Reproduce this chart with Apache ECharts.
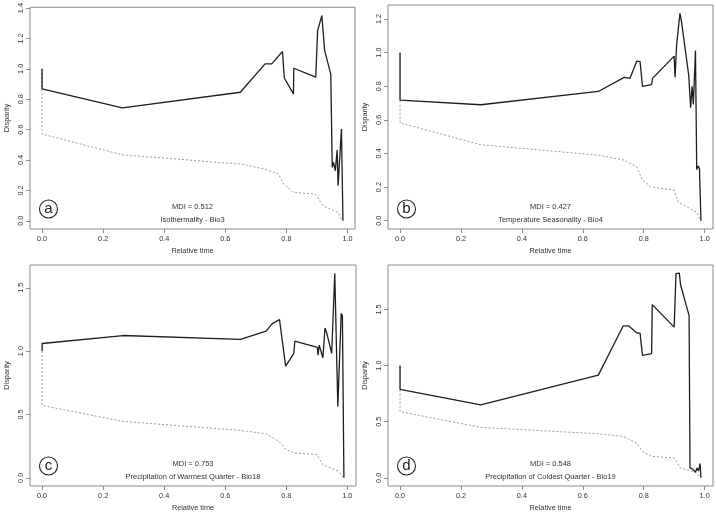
<!DOCTYPE html>
<html>
<head>
<meta charset="utf-8">
<script src="https://cdn.jsdelivr.net/npm/echarts@6/dist/echarts.min.js"></script>
<style>html,body{margin:0;padding:0;background:#fff;}#c{width:716px;height:515px;}</style>
</head>
<body>
<div id="c"></div>
<script>
// ---- data ----
const panelLetters = ['a', 'b', 'c', 'd'];
const traitNames = ['Isothermality - Bio3', 'Temperature Seasonality - Bio4', 'Precipitation of Warmest Quarter - Bio18', 'Precipitation of Coldest Quarter - Bio19'];
const mdiValues = ['0.512', '0.427', '0.753', '0.548'];

const xTicks = [0, 0.2, 0.4, 0.6, 0.8, 1.0];
const yTicksA = [0, 0.2, 0.4, 0.6, 0.8, 1.0, 1.2, 1.4];
const yTicksB = [0, 0.2, 0.4, 0.6, 0.8, 1.0, 1.2];
const yTicksC = [0, 0.5, 1.0, 1.5];
const yTicksD = [0, 0.5, 1.0, 1.5];

const timeA = [0, 0, 0.263, 0.649, 0.730, 0.752, 0.787, 0.793, 0.823, 0.824, 0.896, 0.902, 0.916, 0.925, 0.945, 0.950, 0.954, 0.960, 0.966, 0.969, 0.980, 0.985];
const dispA = [1.0, 0.868, 0.743, 0.846, 1.033, 1.033, 1.114, 0.94, 0.835, 1.004, 0.945, 1.252, 1.351, 1.12, 0.967, 0.351, 0.384, 0.33, 0.466, 0.231, 0.604, 0.0];
const nullTimeA = [0, 0, 0.265, 0.4, 0.6, 0.65, 0.73, 0.774, 0.79, 0.823, 0.894, 0.92, 0.969, 0.983];
const nullDispA = [1.0, 0.571, 0.433, 0.413, 0.38, 0.374, 0.34, 0.308, 0.242, 0.187, 0.176, 0.099, 0.055, 0.0];

const timeB = [0, 0, 0.265, 0.651, 0.736, 0.755, 0.777, 0.788, 0.796, 0.826, 0.829, 0.900, 0.903, 0.908, 0.919, 0.924, 0.948, 0.954, 0.959, 0.963, 0.970, 0.974, 0.979, 0.983, 0.988];
const dispB = [1.0, 0.718, 0.69, 0.769, 0.853, 0.847, 0.949, 0.947, 0.799, 0.809, 0.847, 0.979, 0.853, 1.043, 1.234, 1.184, 0.863, 0.672, 0.799, 0.692, 1.013, 0.305, 0.325, 0.311, 0.0];
const nullTimeB = [0, 0, 0.265, 0.65, 0.735, 0.777, 0.796, 0.826, 0.9, 0.914, 0.974, 0.988];
const nullDispB = [1.0, 0.582, 0.452, 0.39, 0.361, 0.321, 0.241, 0.2, 0.181, 0.11, 0.05, 0.0];

const timeC = [0, 0, 0.265, 0.650, 0.734, 0.754, 0.778, 0.798, 0.825, 0.828, 0.902, 0.904, 0.908, 0.920, 0.927, 0.932, 0.949, 0.959, 0.969, 0.980, 0.984, 0.989];
const dispC = [1.0, 1.06, 1.123, 1.092, 1.157, 1.217, 1.249, 0.882, 0.982, 1.078, 1.029, 0.968, 1.047, 0.947, 1.183, 1.15, 0.982, 1.615, 0.562, 1.296, 1.28, 0.0];
const nullTimeC = [0, 0, 0.265, 0.65, 0.734, 0.776, 0.796, 0.826, 0.9, 0.92, 0.97, 0.989];
const nullDispC = [1.0, 0.571, 0.445, 0.374, 0.348, 0.288, 0.228, 0.196, 0.183, 0.104, 0.052, 0.0];

const timeD = [0, 0, 0.265, 0.651, 0.733, 0.750, 0.777, 0.788, 0.796, 0.826, 0.828, 0.900, 0.906, 0.917, 0.921, 0.926, 0.949, 0.952, 0.960, 0.965, 0.970, 0.975, 0.980, 0.985, 0.988];
const dispD = [1.0, 0.788, 0.65, 0.915, 1.355, 1.355, 1.293, 1.29, 1.092, 1.107, 1.544, 1.343, 1.821, 1.824, 1.721, 1.71, 1.446, 0.088, 0.08, 0.088, 0.05, 0.088, 0.06, 0.127, 0.0];
const nullTimeD = [0, 0, 0.265, 0.65, 0.733, 0.777, 0.796, 0.826, 0.9, 0.92, 0.97, 0.988];
const nullDispD = [1.0, 0.59, 0.449, 0.393, 0.369, 0.31, 0.236, 0.191, 0.177, 0.088, 0.05, 0.0];

// ---- build ----
const FONT = 'Liberation Sans, Arial, sans-serif';
const TXT = '#333';
const BOX = '#8a8a8a';
const AX_FS = 7.3;
const TX_FS = 7.5;
const zip = (a, b) => a.map((v, i) => [v, b[i]]);
const panels = [
  {t: timeA, d: dispA, nt: nullTimeA, nd: nullDispA, yt: yTicksA, grid: {left: 30, top: 5, width: 325, height: 224}},
  {t: timeB, d: dispB, nt: nullTimeB, nd: nullDispB, yt: yTicksB, grid: {left: 388, top: 5, width: 325, height: 224}},
  {t: timeC, d: dispC, nt: nullTimeC, nd: nullDispC, yt: yTicksC, grid: {left: 30, top: 265, width: 326, height: 221}},
  {t: timeD, d: dispD, nt: nullTimeD, nd: nullDispD, yt: yTicksD, grid: {left: 388, top: 265, width: 325, height: 221}}
];
function ext(arrs) {
  let lo = Infinity, hi = -Infinity;
  arrs.forEach(a => a.forEach(v => { lo = Math.min(lo, v); hi = Math.max(hi, v); }));
  const e = 0.04 * (hi - lo);
  return [lo - e, hi + e];
}
const grids = [], xAxes = [], yAxes = [], series = [], graphics = [];
panels.forEach((p, i) => {
  grids.push(Object.assign({show: true, borderColor: BOX, borderWidth: 1, backgroundColor: '#fff'}, p.grid));
  const xr = ext([p.t, p.nt]);
  const yr = ext([p.d, p.nd]);
  xAxes.push({
    type: 'value', gridIndex: i, min: xr[0], max: xr[1], position: 'bottom',
    name: 'Relative time', nameLocation: 'middle', nameGap: 18,
    nameTextStyle: {color: TXT, fontSize: AX_FS, fontFamily: FONT},
    axisLine: {show: false, onZero: false}, splitLine: {show: false},
    axisTick: {show: true, inside: false, length: 4, customValues: xTicks, lineStyle: {color: BOX}},
    axisLabel: {show: true, customValues: xTicks, color: TXT, fontSize: AX_FS, fontFamily: FONT, margin: 6,
      formatter: v => v.toFixed(1)}
  });
  yAxes.push({
    type: 'value', gridIndex: i, min: yr[0], max: yr[1], position: 'left',
    name: 'Disparity', nameLocation: 'middle', nameGap: 20, nameRotate: 90,
    nameTextStyle: {color: TXT, fontSize: AX_FS, fontFamily: FONT},
    axisLine: {show: false, onZero: false}, splitLine: {show: false},
    axisTick: {show: true, inside: false, length: 4, customValues: p.yt, lineStyle: {color: BOX}},
    axisLabel: {show: true, customValues: p.yt, rotate: 90, color: TXT, fontSize: AX_FS, fontFamily: FONT, margin: 6,
      formatter: v => v.toFixed(1)}
  });
  series.push({
    type: 'line', xAxisIndex: i, yAxisIndex: i, data: zip(p.nt, p.nd), showSymbol: false, silent: true,
    lineStyle: {color: '#9a9a9a', width: 1, type: [2, 2]}, z: 2
  });
  series.push({
    type: 'line', xAxisIndex: i, yAxisIndex: i, data: zip(p.t, p.d), showSymbol: false, silent: true,
    lineStyle: {color: '#1e1e1e', width: 1.3}, z: 3
  });
  const g = p.grid;
  const cx = g.left + g.width * 0.5;
  const bottom = g.top + g.height;
  graphics.push({type: 'text', x: cx, y: bottom - 22, z: 10,
    style: {text: 'MDI = ' + mdiValues[i], fill: TXT, font: TX_FS + 'px ' + FONT, textAlign: 'center', textVerticalAlign: 'middle'}});
  graphics.push({type: 'text', x: cx, y: bottom - 9.5, z: 10,
    style: {text: traitNames[i], fill: TXT, font: TX_FS + 'px ' + FONT, textAlign: 'center', textVerticalAlign: 'middle'}});
  const lx = g.left + 18.5, ly = bottom - 20;
  graphics.push({type: 'circle', shape: {cx: lx, cy: ly, r: 9}, z: 10,
    style: {fill: '#fff', stroke: '#222', lineWidth: 1.1}});
  graphics.push({type: 'text', x: lx, y: ly, z: 11,
    style: {text: panelLetters[i], fill: '#222', font: '15px ' + FONT, textAlign: 'center', textVerticalAlign: 'middle'}});
});

const chart = echarts.init(document.getElementById('c'), null, {renderer: 'canvas'});
chart.setOption({
  animation: false,
  backgroundColor: '#fff',
  grid: grids, xAxis: xAxes, yAxis: yAxes, series: series, graphic: graphics
});
</script>
</body>
</html>
